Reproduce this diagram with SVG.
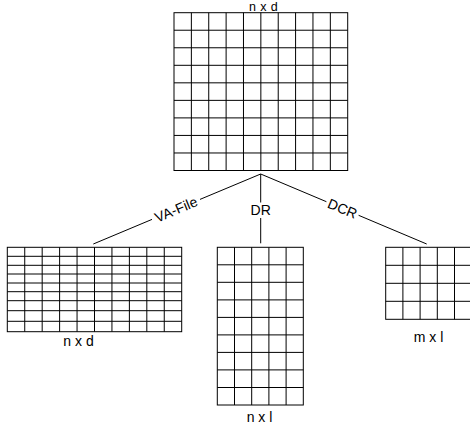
<svg xmlns="http://www.w3.org/2000/svg" width="470" height="429" viewBox="0 0 470 429">
<style>
.g{fill:#fff;stroke:#000;stroke-width:1}
.c{fill:none;stroke:#000;stroke-width:1}
text{font-family:"Liberation Sans",Arial,sans-serif;font-size:14px;fill:#000;text-anchor:middle}
</style>
<rect width="470" height="429" fill="#fff"/>
<g id="top-matrix">
<rect class="g" x="174" y="12.7" width="173.7" height="157.8"/>
<path class="c" d="M191.37 12.7V170.5M208.74 12.7V170.5M226.11 12.7V170.5M243.48 12.7V170.5M260.85 12.7V170.5M278.22 12.7V170.5M295.59 12.7V170.5M312.96 12.7V170.5M330.33 12.7V170.5M174 30.23H347.7M174 47.77H347.7M174 65.3H347.7M174 82.83H347.7M174 100.37H347.7M174 117.9H347.7M174 135.43H347.7M174 152.97H347.7"/>
<text x="263.5" y="11.4" style="font-size:12.5px;letter-spacing:0.4px">n x d</text>
</g>
<g id="va-file-matrix">
<rect class="g" x="7.3" y="247.3" width="174.4" height="84.4"/>
<path class="c" d="M24.74 247.3V331.7M42.18 247.3V331.7M59.62 247.3V331.7M77.06 247.3V331.7M94.5 247.3V331.7M111.94 247.3V331.7M129.38 247.3V331.7M146.82 247.3V331.7M164.26 247.3V331.7M7.3 256.3H181.7M7.3 265.3H181.7M7.3 274H181.7M7.3 283H181.7M7.3 291.7H181.7M7.3 300.7H181.7M7.3 310.7H181.7M7.3 321.3H181.7"/>
<text x="78.5" y="345.5">n x d</text>
</g>
<g id="dr-matrix">
<rect class="g" x="217.3" y="247.3" width="86" height="157.7"/>
<path class="c" d="M234.5 247.3V405M251.7 247.3V405M268.9 247.3V405M286.1 247.3V405M217.3 264.8H303.3M217.3 282.3H303.3M217.3 299.9H303.3M217.3 317.4H303.3M217.3 334.9H303.3M217.3 352.4H303.3M217.3 369.9H303.3M217.3 387.5H303.3"/>
<text x="259.5" y="421.5">n x l</text>
</g>
<g id="dcr-matrix">
<rect class="g" x="385.7" y="247.3" width="86" height="72"/>
<path class="c" d="M402.9 247.3V319.3M420.1 247.3V319.3M437.3 247.3V319.3M454.5 247.3V319.3M385.7 265.3H471.7M385.7 283.3H471.7M385.7 301.3H471.7"/>
<text x="428.5" y="342">m x l</text>
</g>
<g id="connectors">
<path class="c" d="M260.7 174L200 199.4M152 219.4L93.3 244M260.7 174V202.5M260.7 218V243.3M260.7 174L326.4 201.7M358.6 215.3L426.7 244"/>
<text transform="translate(176,209.4) rotate(-22.69)" y="5">VA-File</text>
<text x="260.7" y="214.5">DR</text>
<text transform="translate(342.5,208.5) rotate(22.69)" y="5">DCR</text>
</g>
</svg>
